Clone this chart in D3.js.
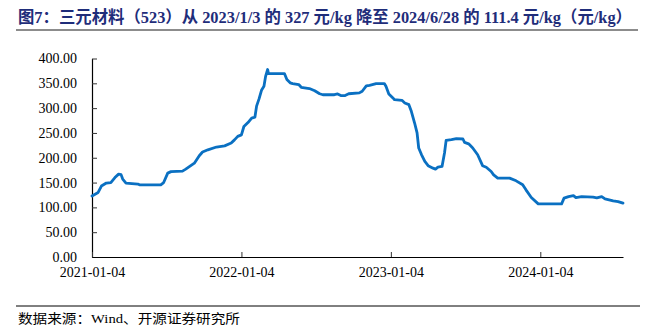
<!DOCTYPE html>
<html><head><meta charset="utf-8">
<script src="https://cdn.jsdelivr.net/npm/d3@7"></script>
<style>body{margin:0;background:#fff} svg{display:block}</style>
</head><body>
<svg id="c" width="645" height="326"></svg>
<script>
const titleText = "图7：三元材料（523）从 2023/1/3 的 327 元/kg 降至 2024/6/28 的 111.4 元/kg（元/kg）";
const sourceText = "数据来源：Wind、开源证券研究所";
const xTickLabels = ["2021-01-04","2022-01-04","2023-01-04","2024-01-04"];
const yTickValues = [0,50,100,150,200,250,300,350,400];
const xDomain = ["2021-01-04","2024-07-24"];
const dates = [
"2021-01-04","2021-01-19","2021-01-27","2021-02-08","2021-02-19","2021-03-01","2021-03-10","2021-03-16","2021-03-20","2021-03-28",
"2021-04-26","2021-04-30","2021-06-21","2021-06-28","2021-07-08","2021-07-16","2021-08-13","2021-08-21","2021-09-11","2021-09-23",
"2021-10-01","2021-10-14","2021-11-04","2021-11-24","2021-12-10","2021-12-18","2021-12-26","2022-01-04","2022-01-10","2022-01-20",
"2022-01-29","2022-02-06","2022-02-10","2022-02-16","2022-02-22","2022-02-28","2022-03-04","2022-03-09","2022-03-11","2022-04-19",
"2022-04-25","2022-05-03","2022-05-09","2022-05-24","2022-05-30","2022-06-19","2022-07-02","2022-07-14","2022-07-22","2022-08-19",
"2022-08-27","2022-09-05","2022-09-13","2022-09-23","2022-10-19","2022-10-26","2022-11-05","2022-11-13","2022-11-29","2022-12-19",
"2022-12-23","2022-12-30","2023-01-09","2023-01-13","2023-01-31","2023-02-07","2023-02-17","2023-02-23","2023-03-03","2023-03-09",
"2023-03-13","2023-03-20","2023-03-28","2023-04-05","2023-04-17","2023-04-23","2023-04-29","2023-05-09","2023-05-15","2023-05-19",
"2023-06-01","2023-06-13","2023-06-29","2023-07-03","2023-07-13","2023-07-23","2023-08-04","2023-08-16","2023-08-25","2023-09-06",
"2023-09-12","2023-09-22","2023-10-21","2023-11-06","2023-11-22","2023-11-30","2023-12-13","2023-12-30","2024-02-25","2024-03-02",
"2024-03-13","2024-03-25","2024-03-31","2024-04-14","2024-05-12","2024-05-21","2024-06-02","2024-06-10","2024-06-30","2024-07-12",
"2024-07-24"];
const values = [
123,130,143,149,150,160,167,166,157,149,
147,145.5,145.5,150,169,172,173,177,189,204,
211.5,216,221.6,224,229.7,236,243,246,263,271,
280,282,304,318.6,336,344,364,377.8,369.7,369.7,
357.6,351,349.5,347.5,342,339.4,335,329,327,327,
328.7,325,325,329,330.7,334,345,346,349.5,349.5,
344,328.7,320.6,317,315.8,310.5,307,293.5,270,250,
219.6,206,192.5,184,179,177,181,182.4,209.5,235,
236.4,238.4,237.8,231,228,219.6,206,184,181,172.3,
165.6,159,159,153.5,145.5,135.3,119.8,107,107,118.6,
121.8,123.8,119.8,121.8,120.6,119.2,121.8,117.2,113.1,111.7,
108.5];

const parse = d3.timeParse("%Y-%m-%d");
const data = dates.map((d,i)=>({date:parse(d), value:values[i]}));
const svg = d3.select("#c");
const serif = "'Liberation Serif','Times New Roman','Noto Sans CJK SC',serif";

const x = d3.scaleTime().domain(xDomain.map(parse)).range([92,623]);
const y = d3.scaleLinear().domain([0,400]).range([257,58.5]);

// title
svg.append("text").attr("x",18).attr("y",23)
  .attr("font-family",serif).attr("font-weight","bold").attr("font-size",16.5)
  .attr("fill","#1F2D7A").attr("textLength",614).attr("lengthAdjust","spacingAndGlyphs")
  .text(titleText);
svg.append("line").attr("x1",16).attr("x2",638).attr("y1",30).attr("y2",30)
  .attr("stroke","#8c8c8c").attr("stroke-width",2.2);

// axes
const yAxis = d3.axisLeft(y).tickValues(yTickValues).tickFormat(d3.format(".2f"))
  .tickSizeInner(-5).tickSizeOuter(0).tickPadding(15);
const gy = svg.append("g").attr("transform","translate(92,0)").call(yAxis);
const xAxis = d3.axisBottom(x).tickValues(xTickLabels.map(parse))
  .tickFormat(d3.timeFormat("%Y-%m-%d")).tickSizeInner(-5).tickSizeOuter(0).tickPadding(10);
const gx = svg.append("g").attr("transform","translate(0,257)").call(xAxis);
[gx,gy].forEach(g=>{
  g.selectAll("text").attr("font-family",serif).attr("font-size",14).attr("fill","#000");
  g.select(".domain").attr("stroke","#000").attr("stroke-width",1.2);
  g.selectAll(".tick line").attr("stroke","#333");
});

// line
svg.append("path").datum(data)
  .attr("fill","none").attr("stroke","#0A70C2").attr("stroke-width",2.8)
  .attr("stroke-linejoin","round").attr("stroke-linecap","round")
  .attr("d",d3.line().x(d=>x(d.date)).y(d=>y(d.value)));

// source
svg.append("line").attr("x1",16).attr("x2",640).attr("y1",306).attr("y2",306)
  .attr("stroke","#000").attr("stroke-width",1);
svg.append("text").attr("x",18).attr("y",323)
  .attr("font-family",serif).attr("font-size",13).attr("fill","#000")
  .attr("textLength",222).attr("lengthAdjust","spacingAndGlyphs").text(sourceText);
</script>
</body></html>
